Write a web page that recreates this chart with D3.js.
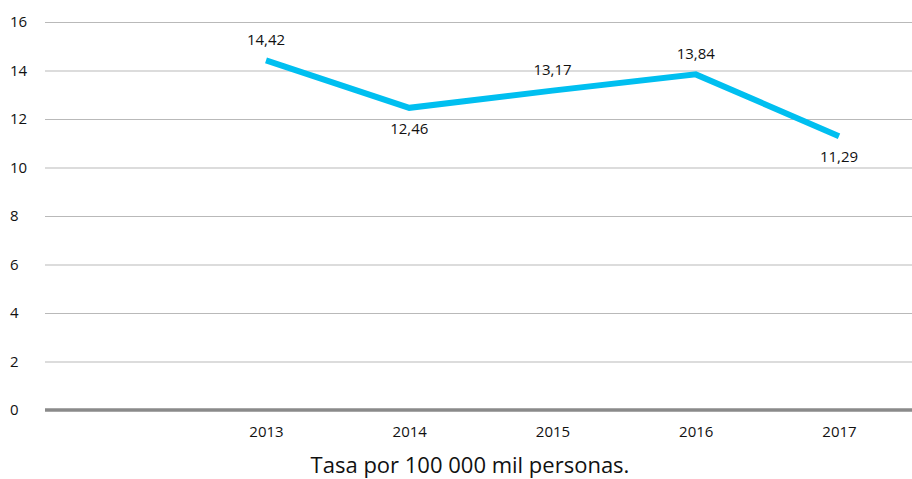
<!DOCTYPE html>
<html>
<head>
<meta charset="utf-8">
<script src="https://cdn.jsdelivr.net/npm/d3@7"></script>
<style>
  body { margin: 0; background: #fff; }
  text { font-family: "Open Sans", sans-serif; fill: #111; }
</style>
</head>
<body>
<script>
var width = 912;
var height = 479;

// data
var years = ["2013", "2014", "2015", "2016", "2017"];
var tasa = [14.42, 12.46, 13.17, 13.84, 11.29];
var labelText = ["14,42", "12,46", "13,17", "13,84", "11,29"];
var labelSide = ["above", "below", "above", "above", "below"];
var yTicks = [0, 2, 4, 6, 8, 10, 12, 14, 16];
var caption = "Tasa por 100 000 mil personas.";

var svg = d3.select("body").append("svg")
    .attr("width", width)
    .attr("height", height);

var x = d3.scalePoint()
    .domain(years)
    .range([266, 839]);

var y = d3.scaleLinear()
    .domain([0, 16])
    .range([410, 22]);

// gridlines
svg.append("g").attr("class", "grid")
  .selectAll("line")
  .data(yTicks.filter(function(d) { return d > 0; }))
  .enter().append("line")
    .attr("x1", 45)
    .attr("x2", width)
    .attr("y1", function(d) { return y(d) + 0.5; })
    .attr("y2", function(d) { return y(d) + 0.5; })
    .style("stroke", "#b9b9b9")
    .style("stroke-width", 1);

// y labels
svg.append("g")
  .selectAll("text")
  .data(yTicks)
  .enter().append("text")
    .attr("x", 10)
    .attr("y", function(d) { return y(d); })
    .attr("dy", "0.35em")
    .style("font-size", "15px")
    .text(function(d) { return d; });

// baseline
svg.append("line")
    .attr("x1", 45).attr("x2", width)
    .attr("y1", y(0)).attr("y2", y(0))
    .style("stroke", "#8a8a8a")
    .style("stroke-width", 3.5);

// x axis labels
var xAxis = d3.axisBottom(x).tickSize(0).tickPadding(0);
var gx = svg.append("g")
    .attr("transform", "translate(0,426)")
    .call(xAxis);
gx.select(".domain").remove();
gx.selectAll("text")
    .style("font-size", "15px")
    .style("font-family", "Open Sans, sans-serif")
    .attr("fill", "#111");

// line
var line = d3.line()
    .x(function(d, i) { return x(years[i]); })
    .y(function(d) { return y(d); });

svg.append("path")
    .datum(tasa)
    .attr("d", line)
    .style("fill", "none")
    .style("stroke", "#00bff0")
    .style("stroke-width", 6);

// data labels
svg.append("g")
  .selectAll("text")
  .data(tasa)
  .enter().append("text")
    .attr("x", function(d, i) { return x(years[i]); })
    .attr("y", function(d, i) { return labelSide[i] == "above" ? y(d) - 21 : y(d) + 21; })
    .attr("dy", "0.35em")
    .attr("text-anchor", "middle")
    .style("font-size", "15px")
    .text(function(d, i) { return labelText[i]; });

svg.append("text")
    .attr("x", 470)
    .attr("y", 473)
    .attr("text-anchor", "middle")
    .style("font-size", "22px")
    .text(caption);
</script>
</body>
</html>
